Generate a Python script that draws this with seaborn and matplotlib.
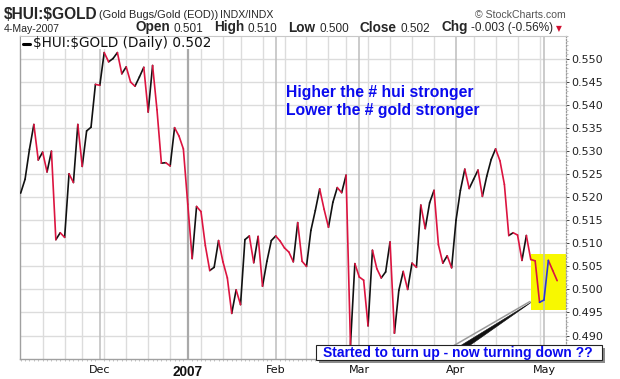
import numpy as np
import pandas as pd
import matplotlib
matplotlib.use("Agg")
import matplotlib.pyplot as plt
import seaborn as sns
from matplotlib.patches import Rectangle, Polygon
from matplotlib.lines import Line2D

# ---------------- data ----------------
start_date = "2006-11-06"
end_date = "2007-05-04"
holidays = ["2006-11-23", "2006-12-25", "2007-01-01", "2007-01-02",
            "2007-01-15", "2007-02-19", "2007-04-06"]

ratio = [
    0.5209, 0.5239, 0.5304, 0.5358, 0.5281, 0.5298, 0.5255, 0.5300, 0.5108, 0.5123,
    0.5113, 0.5251, 0.5232, 0.5358, 0.5267, 0.5344, 0.5352, 0.5445, 0.5443, 0.5514,
    0.5494, 0.5501, 0.5514, 0.5468, 0.5483, 0.5450, 0.5441, 0.5461, 0.5482, 0.5385,
    0.5486, 0.5390, 0.5274, 0.5275, 0.5268, 0.5351, 0.5333, 0.5305, 0.5185, 0.5067,
    0.5180, 0.5169, 0.5095, 0.5041, 0.5048, 0.5106, 0.5060, 0.5025, 0.4948, 0.4999,
    0.4967, 0.5108, 0.5116, 0.5058, 0.5115, 0.5007, 0.5061, 0.5106, 0.5116, 0.5105,
    0.5090, 0.5081, 0.5060, 0.5145, 0.5061, 0.5050, 0.5128, 0.5171, 0.5218, 0.5174,
    0.5135, 0.5189, 0.5221, 0.5210, 0.5248, 0.4880, 0.5056, 0.5027, 0.5020, 0.4921,
    0.5085, 0.5045, 0.5025, 0.5038, 0.5103, 0.4905, 0.4998, 0.5039, 0.5000, 0.5057,
    0.5048, 0.5183, 0.5132, 0.5188, 0.5215, 0.5097, 0.5057, 0.5073, 0.5047, 0.5150,
    0.5215, 0.5261, 0.5219, 0.5239, 0.5259, 0.5202, 0.5246, 0.5282, 0.5305, 0.5279,
    0.5228, 0.5117, 0.5123, 0.5118, 0.5063, 0.5117, 0.5065, 0.5062, 0.4972, 0.4977,
    0.5063, 0.5041, 0.5019,
]
highlight_segments = [118, 119]          # segments the author re-drew in blue
month_labels = ["Dec", "2007", "Feb", "Mar", "Apr", "May"]
y_ticks = [0.490, 0.495, 0.500, 0.505, 0.510, 0.515, 0.520, 0.525,
           0.530, 0.535, 0.540, 0.545, 0.550]

# ---------------- setup ----------------
sns.set_style("white")
plt.rcParams["font.family"] = ["DejaVu Sans"]

W, H = 620, 379
fig = plt.figure(figsize=(W / 100, H / 100), dpi=100)
fig.patch.set_facecolor("white")

def fx(x):
    return x / W

def fy(y):
    return 1 - y / H

ax_l, ax_r, ax_t, ax_b = 20, 565.5, 36, 359
ax = fig.add_axes([fx(ax_l), fy(ax_b), (ax_r - ax_l) / W, (ax_b - ax_t) / H])

dates = pd.bdate_range(start_date, end_date, freq="C", holidays=holidays)
n = len(dates)
pos = np.arange(n)

# segment table for the up/down colour coding
rows = []
for i in range(n - 1):
    if i in highlight_segments:
        d = "hl"
    elif ratio[i + 1] >= ratio[i]:
        d = "up"
    else:
        d = "down"
    rows.append({"x": pos[i], "y": ratio[i], "seg": i, "dir": d})
    rows.append({"x": pos[i + 1], "y": ratio[i + 1], "seg": i, "dir": d})
seg_df = pd.DataFrame(rows)

palette = {"up": "#111111", "down": "#dc1440", "hl": "#2a36d8"}
sns.lineplot(data=seg_df, x="x", y="y", hue="dir", units="seg", estimator=None,
             palette=palette, linewidth=1.2, legend=False, sort=False, ax=ax,
             zorder=3, solid_capstyle="round")

# ---------------- axes ----------------
ax.set_xlim(-0.15, 123.9)
ax.set_ylim(0.4849, 0.5546)
ax.set_xlabel("")
ax.set_ylabel("")

month_pos = [p for p in pos[1:] if dates[p].month != dates[p - 1].month]
week_pos = [p for p in pos[1:] if dates[p].weekday() <= dates[p - 1].weekday()
            or (dates[p] - dates[p - 1]).days > 3]

for p in week_pos:
    if p not in month_pos:
        ax.axvline(p, color="#dcdcdc", lw=1.0, zorder=0.6)
for p in month_pos:
    if dates[p].month == 1:
        ax.axvline(p, color="#a9a9a9", lw=1.6, zorder=1.6)
    else:
        ax.axvline(p, color="#bdbdbd", lw=1.1, zorder=1.6)

ax.set_xticks(month_pos, labels=month_labels)
for lab in ax.get_xticklabels():
    if lab.get_text() == "2007":
        lab.set_fontweight("bold")
        lab.set_fontsize(9.8)
        lab.set_fontfamily(["Liberation Sans", "DejaVu Sans"])
    else:
        lab.set_fontsize(8)
ax.set_xticks(pos, minor=True)
ax.tick_params(axis="x", which="major", length=0, pad=4, colors="#111111")
ax.tick_params(axis="x", which="minor", length=1.5, width=0.5, color="#aaaaaa",
               bottom=True)

ax.yaxis.tick_right()
ax.set_yticks(y_ticks, labels=[f"{v:.3f}" for v in y_ticks])
ax.set_yticks(np.arange(0.486, 0.555, 0.001), minor=True)
ax.tick_params(axis="y", which="major", length=2.5, width=0.6, pad=1.5,
               labelsize=8, colors="#222222", right=True, left=False)
ax.tick_params(axis="y", which="minor", length=1.2, width=0.5, color="#aaaaaa",
               right=True, left=False)
ax.grid(axis="y", color="#dcdcdc", lw=1.0)
ax.set_axisbelow(True)

for side in ["left", "bottom"]:
    ax.spines[side].set_color("#a0a0a0")
    ax.spines[side].set_linewidth(1.0)
ax.spines["top"].set_color("#c8c8c8")
ax.spines["right"].set_color("#9a9a9a")
ax.spines["right"].set_linestyle((0, (1, 1.5)))
ax.spines["right"].set_linewidth(0.9)

# yellow highlight box around the last days
ax.add_patch(Rectangle((116.0, 0.4956), 123.9 - 116.0, 0.5077 - 0.4956,
                       facecolor="#f8f800", edgecolor="none", zorder=1.2))

# legend-like label inside plot
fig.add_artist(Rectangle((fx(21), fy(49)), (214 - 21) / W, (49 - 37.5) / H,
                         transform=fig.transFigure, facecolor="white",
                         edgecolor="none", zorder=2))
fig.add_artist(Line2D([fx(22.5), fx(30)], [fy(43.5), fy(43.5)], color="black",
                      lw=2.2, transform=fig.transFigure, zorder=3))
fig.text(fx(33), fy(43.5), r"\$HUI:\$GOLD (Daily) 0.502", fontsize=9.8,
         va="center", ha="left", color="#111111", zorder=4)

# ---------------- header ----------------
fig.text(fx(4), fy(19), r"\$HUI:\$GOLD",
         fontfamily=["Liberation Sans"],
         fontweight="bold", fontsize=11.2, va="baseline")
fig.text(fx(99), fy(18), "(Gold Bugs/Gold (EOD))",
         fontfamily=["Liberation Sans"], fontsize=7.9, va="baseline")
fig.text(fx(220), fy(18), "INDX/INDX",
         fontfamily=["Liberation Sans"], fontsize=7.6, va="baseline")
fig.text(fx(566), fy(18), "\u00a9 StockCharts.com",
         fontfamily=["Liberation Sans"], fontsize=7.6, va="baseline",
         ha="right", color="#555555")
fig.text(fx(4), fy(31.5), "4-May-2007",
         fontfamily=["Liberation Sans"], fontsize=7.6, va="baseline")

pieces = [("Open", True), ("0.501", False), ("High", True), ("0.510", False),
          ("Low", True), ("0.500", False), ("Close", True), ("0.502", False),
          ("Chg", True), ("-0.003 (-0.56%)", False)]
renderer = fig.canvas.get_renderer()
xcur = 135
for k, (txt, bold) in enumerate(pieces):
    t = fig.text(fx(xcur), fy(31.5), txt, fontfamily=["Liberation Sans"],
                 fontsize=9.8 if bold else 8.5,
                 fontweight="bold" if bold else "normal", va="baseline")
    ext = t.get_window_extent(renderer)
    xcur = ext.x1 + (3.5 if bold else 11)
fig.text(fx(xcur - 8), fy(31.5), "\u25bc", fontsize=5.5, color="#d01030",
         va="baseline")

# ---------------- annotations ----------------
blue = "#0a0aee"
fig.text(fx(286), fy(92), "Higher the # hui stronger", fontsize=11.3,
         fontweight="bold", color=blue, fontfamily=["Liberation Sans"],
         va="center", zorder=5)
fig.text(fx(286), fy(110.7), "Lower the # gold stronger", fontsize=11.3,
         fontweight="bold", color=blue, fontfamily=["Liberation Sans"],
         va="center", zorder=5)

# pointer from the box to the turn
fig.add_artist(Line2D([fx(454), fx(530)], [fy(345.5), fy(301.5)],
                      color="#9a9a9a", lw=1.1, transform=fig.transFigure,
                      zorder=5))
fig.add_artist(Polygon([(fx(460), fy(346)), (fx(469), fy(346)),
                        (fx(531), fy(302.5))], closed=True,
                       transform=fig.transFigure, facecolor="#111111",
                       edgecolor="#111111", lw=0.4, zorder=5))

# box with shadow
bx0, bx1, by0, by1 = 316, 602, 345, 360
fig.add_artist(Rectangle((fx(bx0 + 2.5), fy(by1 + 2.5)), (bx1 - bx0) / W,
                         (by1 - by0) / H, transform=fig.transFigure,
                         facecolor="#8c8c8c", edgecolor="none", zorder=6))
fig.add_artist(Rectangle((fx(bx0), fy(by1)), (bx1 - bx0) / W, (by1 - by0) / H,
                         transform=fig.transFigure, facecolor="white",
                         edgecolor="#222222", lw=0.8, zorder=7))
fig.text(fx(323), fy(353), "Started to turn up - now turning down ??",
         fontsize=10, fontweight="bold", color=blue,
         fontfamily=["Liberation Sans"], va="center", ha="left", zorder=8)

fig.savefig("out.png", dpi=100, facecolor="white")
